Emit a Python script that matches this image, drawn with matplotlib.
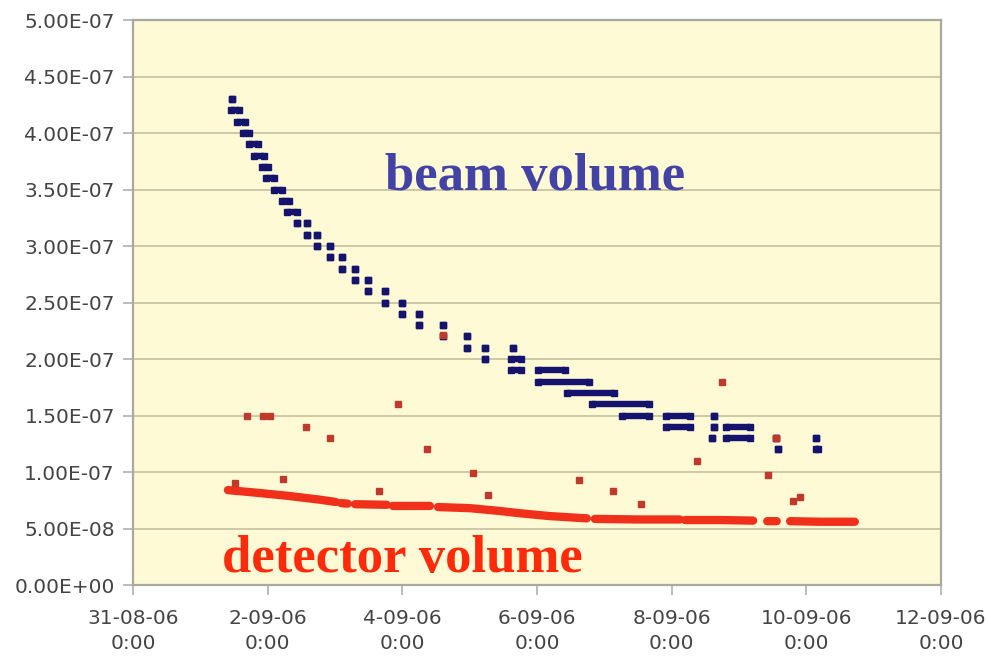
import datetime as dt
import numpy as np
import matplotlib
matplotlib.use("Agg")
import matplotlib.pyplot as plt
import matplotlib.dates as mdates
from matplotlib.ticker import FuncFormatter, MultipleLocator

# time in days after 31-08-06 0:00, values in units of 1e-7
START = dt.datetime(2006, 8, 31)
UNIT = 1e-7

# beam volume: runs of points at the same level (t0 == t1 means a single point)
beam_t0 = [1.47, 1.46, 1.54, 1.64, 1.72, 1.80, 1.91, 1.98, 2.09, 2.21, 2.29,
           2.43, 2.58, 2.58, 2.73, 2.73, 2.93, 2.93, 3.10, 3.10, 3.30,
           3.30, 3.49, 3.49, 3.74, 3.74, 3.99, 3.99, 4.25, 4.25, 4.61,
           4.60, 4.96, 4.96, 5.23, 5.65, 5.23, 5.62, 5.62, 6.01,
           6.01, 6.45, 6.82, 7.26, 7.92, 8.63, 7.92, 8.63, 8.81,
           8.60, 8.81, 9.55, 10.14, 9.58, 10.14]
beam_t1 = [1.47, 1.57, 1.66, 1.73, 1.85, 1.94, 2.00, 2.10, 2.21, 2.32, 2.43,
           2.43, 2.58, 2.58, 2.73, 2.73, 2.93, 2.93, 3.10, 3.10, 3.30,
           3.30, 3.49, 3.49, 3.74, 3.74, 3.99, 3.99, 4.25, 4.25, 4.61,
           4.60, 4.96, 4.96, 5.23, 5.65, 5.23, 5.76, 5.76, 6.42,
           6.77, 7.14, 7.66, 7.66, 8.27, 8.63, 8.27, 8.63, 9.16,
           8.60, 9.16, 9.55, 10.14, 9.58, 10.18]
beam_val = [4.3, 4.2, 4.1, 4.0, 3.9, 3.8, 3.7, 3.6, 3.5, 3.4, 3.3,
            3.2, 3.2, 3.1, 3.1, 3.0, 3.0, 2.9, 2.9, 2.8, 2.8,
            2.7, 2.7, 2.6, 2.6, 2.5, 2.5, 2.4, 2.4, 2.3, 2.3,
            2.2, 2.2, 2.1, 2.1, 2.1, 2.0, 2.0, 1.9, 1.9,
            1.8, 1.7, 1.6, 1.5, 1.5, 1.5, 1.4, 1.4, 1.4,
            1.3, 1.3, 1.3, 1.3, 1.2, 1.2]

# detector volume: main band (nan = gap) and scattered points
det_t = [1.41, 1.78, 2.29, 2.78, 3.01, np.nan,
         3.09, 3.19, np.nan,
         3.30, 3.77, np.nan,
         3.86, 4.41, np.nan,
         4.53, 5.01, 5.45, 5.75, 6.19, 6.74, np.nan,
         6.86, 7.53, 8.12, np.nan,
         8.20, 8.72, 9.21, np.nan,
         9.42, 9.56, np.nan,
         9.76, 10.20, 10.72]
det_v = [0.84, 0.82, 0.79, 0.755, 0.735, np.nan,
         0.725, 0.72, np.nan,
         0.715, 0.71, np.nan,
         0.70, 0.70, np.nan,
         0.69, 0.68, 0.655, 0.635, 0.61, 0.59, np.nan,
         0.585, 0.58, 0.58, np.nan,
         0.575, 0.575, 0.57, np.nan,
         0.565, 0.565, np.nan,
         0.565, 0.56, 0.56]
det_out_t = [1.51, 1.69, 1.93, 2.03, 2.23, 2.57, 2.93, 3.66, 3.94, 4.37, 4.60,
             5.05, 5.28, 6.62, 7.13, 7.54, 8.38, 8.75, 9.43, 9.55, 9.80, 9.91]
det_out_v = [0.90, 1.50, 1.50, 1.50, 0.94, 1.40, 1.30, 0.83, 1.60, 1.20, 2.21,
             0.99, 0.80, 0.93, 0.83, 0.72, 1.10, 1.80, 0.97, 1.30, 0.74, 0.78]

tick_days = [0, 2, 4, 6, 8, 10, 12]


def to_date(days):
    return [START + dt.timedelta(days=float(d)) if not np.isnan(d) else np.nan for d in days]


fig = plt.figure(figsize=(9.88, 6.58), dpi=100)
ax = fig.add_axes([0.1346, 0.1109, 0.8178, 0.8587])
ax.set_facecolor("#fffad6")

beam_col = "#14146e"
red_band = "#f0301a"
red_dot = "#c03a2c"

for t0, t1, v in zip(beam_t0, beam_t1, beam_val):
    ax.plot(to_date([t0, t1]), [v * UNIT, v * UNIT], color=beam_col, lw=4.6,
            marker="s", ms=5, solid_capstyle="butt", zorder=3)

band_x = [mdates.date2num(d) if d is not np.nan else np.nan for d in to_date(det_t)]
ax.plot(band_x, np.array(det_v) * UNIT, color=red_band, lw=6,
        solid_capstyle="round", solid_joinstyle="round", zorder=4)
ax.plot(to_date(det_out_t), np.array(det_out_v) * UNIT, ls="none", marker="s",
        ms=3.8, color=red_dot, zorder=5)

ax.set_xlim(START, START + dt.timedelta(days=12))
ax.set_ylim(0, 5e-7)
ax.yaxis.set_major_locator(MultipleLocator(0.5e-7))
ax.yaxis.set_major_formatter(FuncFormatter(lambda v, p: f"{v:.2E}"))

ticks = [START + dt.timedelta(days=d) for d in tick_days]
ax.set_xticks(ticks)
ax.set_xticklabels([f"{d.day}-{d:%m-%y}\n{d.hour}:{d:%M}" for d in ticks],
                   linespacing=1.45)

ax.grid(axis="y", color="#cdc9a6", lw=1.4)
ax.set_axisbelow(True)
for s in ax.spines.values():
    s.set_color("#a9a9a0")
    s.set_linewidth(1.6)
ax.tick_params(colors="#b0b0b0", length=7, width=1.2)
ax.tick_params(labelcolor="#444444", labelsize=14.5)
ax.tick_params(axis="x", pad=10)
ax.tick_params(axis="y", pad=6)

ax.text(START + dt.timedelta(days=3.74), 3.5e-7, "beam volume", color="#4343a6",
        family="Liberation Serif", weight="bold", fontsize=38, va="baseline", zorder=6)
ax.text(START + dt.timedelta(days=1.32), 0.115e-7, "detector volume", color="#ff2a0a",
        family="Liberation Serif", weight="bold", fontsize=38, va="baseline", zorder=6)

fig.savefig("out.png", dpi=100)
